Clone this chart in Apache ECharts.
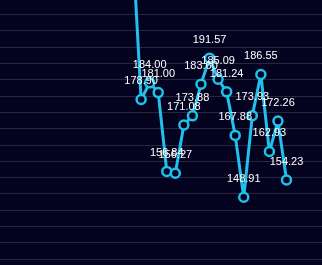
<!DOCTYPE html>
<html><head><meta charset="utf-8">
<script src="https://cdn.jsdelivr.net/npm/echarts@6/dist/echarts.min.js"></script>
<style>html,body{margin:0;padding:0;background:#04031f;}#c{width:322px;height:265px;}</style>
</head><body><div id="c"></div>
<script>
const categories = ['1','2','3','4','5','6','7','8','9','10','11','12','13','14','15','16','17','18','19','20',
  '21','22','23','24','25','26','27','28','29','30','31','32','33','34','35','36','37','38'];
const values = [null,null,null,null,null,null,null,null,null,null,null,null,null,null,null,
  226.5,178.90,184.00,181.00,156.84,156.27,171.08,173.88,183.60,191.57,185.09,181.24,167.88,148.91,173.93,186.55,162.93,172.26,154.23,
  null,null,null,null];
const yMin = 125, yMax = 210, yStep = 5;

const chart = echarts.init(document.getElementById('c'), null, {renderer:'canvas'});
chart.setOption({
  backgroundColor: '#04031f',
  animation: false,
  grid: {left: 0, top: -2, width: 325, height: 277.3, containLabel: false, outerBoundsMode: 'none'},
  xAxis: {type: 'category', data: categories, boundaryGap: true, show: false},
  yAxis: {type: 'value', min: yMin, max: yMax, interval: yStep,
    axisLine: {show: false}, axisTick: {show: false}, axisLabel: {show: false},
    splitLine: {show: true, lineStyle: {color: '#28273f', width: 1}}},
  series: [{
    type: 'line', data: values, connectNulls: false,
    symbol: 'circle', symbolSize: 9, showAllSymbol: true,
    lineStyle: {color: '#22c0ee', width: 3},
    itemStyle: {color: '#04031f', borderColor: '#1cc3ec', borderWidth: 2.5},
    label: {show: true, position: 'top', distance: 7, color: '#ffffff',
      fontSize: 11, fontFamily: 'Liberation Sans',
      formatter: p => p.value == null ? '' : Number(p.value).toFixed(2)}
  }]
});
</script></body></html>
